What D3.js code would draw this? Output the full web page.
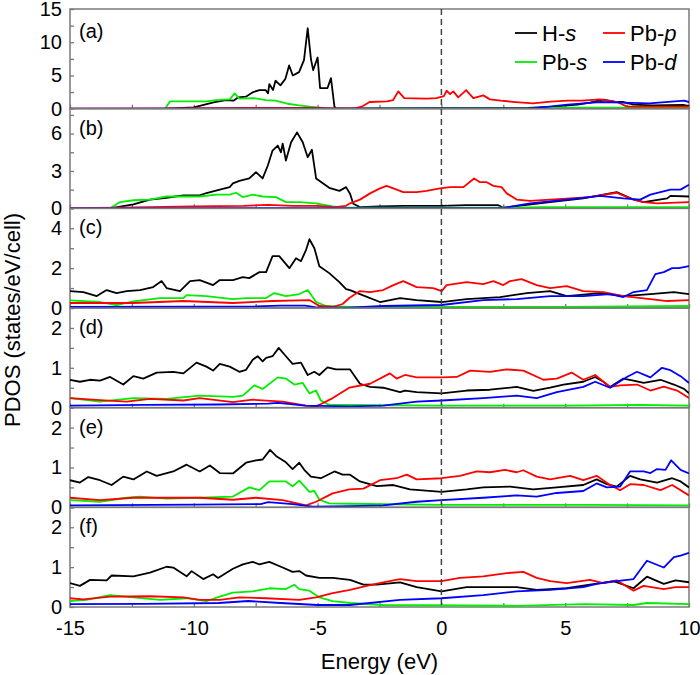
<!DOCTYPE html>
<html>
<head>
<meta charset="utf-8">
<script src="https://cdn.jsdelivr.net/npm/d3@7/dist/d3.min.js"></script>
<style>
  html, body { margin: 0; padding: 0; background: #fff; }
  svg { display: block; font-family: "Liberation Sans", Arial, sans-serif; }
</style>
</head>
<body>
<svg id="chart" width="700" height="675"></svg>
<script>
// ---------------- data ----------------
const energyTicks = [-15, -10, -5, 0, 5, 10];
const panelLabels = ["(a)", "(b)", "(c)", "(d)", "(e)", "(f)"];
const yMax = [15, 8, 5, 2.5, 2.5, 2.5];
const yTickLabels = [[0, 5, 10, 15], [0, 3, 6], [0, 2, 4], [0, 1, 2], [0, 1, 2], [0, 1, 2]];
const yMinorStep = [2.5, 1.5, 1, 0.5, 0.5, 0.5];
const seriesNames = ["H-s", "Pb-s", "Pb-p", "Pb-d"];

// panel (a)
const hs_a = [[-11.1,0],[-10.0,0.2],[-9.2,0.95],[-8.7,1.3],[-8.4,1.2],[-8.2,1.7],[-7.9,1.8],[-7.6,2.5],[-7.35,2.8],[-7.1,2.8],[-7.0,2.3],[-6.95,3.7],[-6.8,2.8],[-6.7,4.2],[-6.5,3.5],[-6.3,4.5],[-6.15,6.5],[-6.0,5.0],[-5.75,5.5],[-5.55,7.3],[-5.4,12.1],[-5.27,7.5],[-5.18,5.8],[-5.0,7.7],[-4.9,3.1],[-4.6,3.1],[-4.46,4.6],[-4.32,0.3],[-4.26,0.02],[-3,0.05],[0,0.08],[3.5,0.1],[4.5,0.3],[5.5,0.6],[6.0,0.9],[6.54,1.35],[7.1,1.0],[7.35,1.0],[7.76,0.6],[8.5,0.5],[9.8,0.55],[10,0.4]];
const pbs_a = [[-11.16,0],[-10.96,1.1],[-9.5,1.1],[-9.1,1.3],[-8.55,1.4],[-8.35,2.3],[-8.16,1.5],[-7.6,1.6],[-7.1,1.3],[-6.7,1.2],[-6.15,0.7],[-5.75,0.5],[-5.3,0.3],[-5.0,0.2],[-4.4,0.02],[3.5,0.02],[4.5,0.15],[10,0.15]];
const pbp_a = [[-15,0.02],[-11,0.05],[-8,0.1],[-5,0.1],[-4.3,0.05],[-3.5,0.05],[-3.22,0.3],[-2.9,1.0],[-2.2,1.1],[-1.95,1.3],[-1.74,2.6],[-1.5,1.6],[-0.6,1.5],[-0.2,1.6],[0.1,1.9],[0.21,2.7],[0.35,2.2],[0.48,2.6],[0.68,1.7],[1.0,2.8],[1.29,1.6],[1.69,2.0],[1.96,1.4],[2.4,1.2],[3.0,1.0],[3.7,0.8],[4.4,1.06],[5.1,1.2],[5.7,1.2],[6.4,1.4],[7.1,1.0],[7.5,0.3],[10,0.3]];
const pbd_a = [[-15,0],[3.6,0.02],[5.1,0.6],[6.4,1.0],[7.35,0.9],[8.4,0.8],[9.8,1.2],[10,1.0]];

// panel (b)
const hs_b = [[-13.38,0],[-12.44,0.32],[-11.77,0.7],[-11.1,0.85],[-10.42,1.04],[-9.76,1.04],[-9.49,1.23],[-8.95,1.5],[-8.55,1.7],[-8.42,2.0],[-8.16,2.2],[-7.76,2.4],[-7.49,2.9],[-7.22,2.4],[-7.01,3.44],[-6.82,4.64],[-6.61,5.04],[-6.48,4.5],[-6.41,5.2],[-6.28,3.84],[-6.07,5.3],[-5.83,6.1],[-5.6,5.3],[-5.4,4.1],[-5.23,4.7],[-5.06,2.4],[-4.53,1.65],[-4.12,1.4],[-3.85,1.7],[-3.69,1.17],[-3.56,0.37],[-3.29,0.1],[-2.5,0.15],[-1.5,0.2],[0,0.2],[1,0.25],[2.3,0.25],[2.5,0.05],[4.39,0.5],[5.73,0.8],[7.08,1.3],[7.76,0.7],[8.17,0.5],[9.12,0.8],[9.25,1.0],[10,0.95]];
const pbs_b = [[-13.38,0],[-12.98,0.5],[-12.44,0.65],[-11.77,0.7],[-11.1,0.95],[-9.76,0.95],[-9.09,1.1],[-8.55,1.1],[-8.29,1.25],[-8.02,0.9],[-7.62,1.1],[-7.22,0.95],[-6.68,0.9],[-6.28,0.5],[-5.74,0.5],[-5.06,0.4],[-4.39,0.15],[-3.85,0.05],[3,0.05],[4,0.1],[10,0.1]];
const pbp_b = [[-15,0.02],[-13,0.05],[-10,0.15],[-8,0.2],[-7,0.27],[-6,0.2],[-5,0.2],[-4.3,0.1],[-3.85,0.2],[-3.69,0.4],[-3.29,0.7],[-2.88,1.2],[-2.48,1.6],[-2.21,1.8],[-1.94,1.6],[-1.54,1.3],[-1.0,1.3],[-0.59,1.4],[-0.06,1.6],[0.35,1.7],[0.89,1.7],[1.32,2.4],[1.56,2.1],[1.83,2.1],[2.1,1.8],[2.43,1.7],[2.64,1.2],[3.04,0.7],[3.58,0.6],[4.39,0.7],[5.2,0.8],[6.0,0.9],[7.08,1.25],[7.62,0.8],[8.17,0.5],[8.71,0.4],[10,0.5]];
const pbd_b = [[-15,0],[2.5,0.02],[3.58,0.4],[5.06,0.7],[6.41,1.0],[7.35,0.8],[8.03,0.7],[8.44,1.1],[9.25,1.5],[9.66,1.5],[10,1.9]];

// panel (c)
const hs_c = [[-15,0.85],[-14.46,0.8],[-13.92,0.6],[-13.52,0.9],[-13.12,0.75],[-12.71,0.85],[-12.17,0.9],[-11.64,1.05],[-11.3,1.35],[-11.1,1.0],[-10.56,0.85],[-10.15,1.35],[-9.76,1.4],[-9.22,1.15],[-8.95,1.4],[-8.42,1.4],[-8.02,1.55],[-7.76,1.5],[-7.35,1.8],[-7.08,1.8],[-6.82,2.6],[-6.55,2.6],[-6.14,2.0],[-5.87,2.5],[-5.67,2.35],[-5.47,2.9],[-5.33,3.45],[-5.13,3.0],[-4.93,2.1],[-4.53,1.75],[-4.12,1.3],[-3.85,0.95],[-3.69,0.9],[-3.29,0.7],[-2.48,0.3],[-1.67,0.5],[-1.0,0.4],[0.01,0.3],[1.02,0.45],[2.37,0.55],[3.45,0.75],[4.39,0.85],[5.06,0.6],[6.41,0.75],[7.35,0.6],[8.44,0.7],[9.39,0.8],[10,0.7]];
const pbs_c = [[-15,0.38],[-13.79,0.3],[-13.12,0.15],[-12.44,0.33],[-11.37,0.5],[-10.42,0.5],[-10.29,0.65],[-9.49,0.6],[-8.42,0.45],[-7.89,0.5],[-7.08,0.5],[-6.75,0.75],[-6.28,0.6],[-5.74,0.7],[-5.4,0.9],[-5.06,0.3],[-4.66,0.1],[-3.72,0.05],[5,0.05],[10,0.1]];
const pbp_c = [[-15,0.25],[-13.79,0.25],[-12.44,0.25],[-10.42,0.35],[-8.42,0.25],[-6.82,0.35],[-5.33,0.4],[-4.93,0.1],[-4.39,0.05],[-3.99,0.2],[-3.72,0.5],[-3.29,0.85],[-2.88,0.8],[-2.35,0.9],[-1.94,1.15],[-1.54,1.35],[-1.0,1.05],[-0.33,1.0],[0.01,0.85],[0.21,1.15],[1.02,1.3],[1.69,1.2],[2.1,1.35],[2.5,1.15],[2.77,1.35],[3.24,1.45],[3.85,1.15],[4.39,1.0],[5.06,1.1],[5.73,0.85],[6.54,0.8],[7.35,0.6],[8.44,0.45],[9.12,0.35],[10,0.4]];
const pbd_c = [[-15,0.05],[-10,0.07],[-7.5,0.08],[-6.5,0.12],[-5.5,0.12],[-5,0.02],[-3.69,0.02],[-2.35,0.1],[0.01,0.15],[1.69,0.4],[3.04,0.45],[4.39,0.6],[5.73,0.6],[6.81,0.7],[7.35,0.55],[7.76,0.8],[8.3,0.9],[8.64,1.7],[8.98,1.8],[9.32,2.0],[9.59,2.0],[10,2.1]];

// panel (d)
const hs_d = [[-15,0.7],[-14.6,0.65],[-14.19,0.7],[-13.79,0.68],[-13.38,0.77],[-12.85,0.58],[-12.44,0.79],[-12.04,0.73],[-11.5,0.88],[-10.83,0.9],[-10.42,0.86],[-9.89,1.13],[-9.49,1.03],[-9.22,0.93],[-8.95,1.1],[-8.55,1.03],[-8.16,0.9],[-7.89,0.95],[-7.62,1.2],[-7.42,1.29],[-7.22,1.16],[-7.08,1.25],[-6.82,1.29],[-6.57,1.5],[-6.28,1.29],[-6.01,1.1],[-5.67,1.13],[-5.4,0.82],[-5.13,0.9],[-4.93,0.82],[-4.6,1.01],[-4.26,0.96],[-3.69,0.96],[-3.29,0.6],[-2.88,0.52],[-2.35,0.5],[-1.67,0.39],[-1.47,0.43],[-1.0,0.39],[0.01,0.36],[1.02,0.43],[1.96,0.45],[3.04,0.52],[3.71,0.42],[4.39,0.5],[4.93,0.58],[5.73,0.65],[6.21,0.77],[6.54,0.65],[6.81,0.52],[7.35,0.73],[7.76,0.68],[8.17,0.62],[8.85,0.7],[9.39,0.58],[9.8,0.47],[10,0.36]];
const pbs_d = [[-15,0.24],[-13.79,0.15],[-12.44,0.24],[-11.1,0.22],[-9.76,0.3],[-8.42,0.27],[-8.02,0.3],[-7.56,0.56],[-7.22,0.47],[-6.61,0.76],[-6.28,0.73],[-5.94,0.58],[-5.6,0.62],[-5.33,0.36],[-5.06,0.43],[-4.87,0.18],[-4.53,0.07],[-3.72,0.07],[0,0.05],[5,0.05],[8,0.07],[10,0.05]];
const pbp_d = [[-15,0.24],[-13.79,0.19],[-12.71,0.15],[-11.77,0.22],[-10.42,0.18],[-9.76,0.24],[-8.42,0.14],[-7.62,0.2],[-6.41,0.15],[-5.47,0.05],[-5.06,0.03],[-4.39,0.24],[-3.72,0.5],[-2.88,0.6],[-2.08,0.86],[-1.81,0.73],[-1.47,0.82],[-1.0,0.76],[0.01,0.76],[0.62,0.77],[1.16,0.93],[1.96,0.9],[2.64,0.96],[3.31,0.93],[4.12,0.7],[4.66,0.73],[5.26,0.88],[5.73,0.7],[6.21,0.82],[6.81,0.52],[7.22,0.56],[7.9,0.58],[8.44,0.43],[8.98,0.53],[9.52,0.43],[10,0.24]];
const pbd_d = [[-15,0.05],[-12,0.07],[-9,0.08],[-7,0.1],[-6.6,0.12],[-5.5,0.05],[-3.69,0.03],[-2.35,0.05],[-1.0,0.15],[0.01,0.18],[1.69,0.24],[3.04,0.3],[3.85,0.24],[4.66,0.39],[5.73,0.52],[6.21,0.65],[6.81,0.5],[7.49,0.77],[7.9,0.9],[8.44,0.76],[8.91,1.0],[9.25,0.94],[9.66,0.79],[10,0.62]];

// panel (e)
const hs_e = [[-15,0.68],[-14.6,0.62],[-14.26,0.76],[-13.79,0.68],[-13.32,0.56],[-12.85,0.77],[-12.44,0.7],[-11.9,0.9],[-11.5,0.79],[-10.83,0.9],[-10.29,1.07],[-9.76,0.9],[-9.35,1.05],[-8.95,0.86],[-8.42,0.85],[-7.89,1.12],[-7.49,1.18],[-7.22,1.2],[-6.92,1.44],[-6.68,1.29],[-6.28,1.13],[-6.01,0.96],[-5.74,1.12],[-5.54,0.94],[-5.27,0.77],[-4.87,0.73],[-4.32,0.9],[-3.99,0.82],[-3.69,0.82],[-3.29,0.65],[-2.61,0.53],[-1.94,0.56],[-1.27,0.45],[0.01,0.39],[1.02,0.45],[1.69,0.5],[2.77,0.52],[3.71,0.45],[4.66,0.5],[5.73,0.56],[6.27,0.7],[6.68,0.58],[7.08,0.52],[7.62,0.79],[8.03,0.7],[8.71,0.62],[9.32,0.73],[9.66,0.65],[10,0.5]];
const pbs_e = [[-15,0.18],[-13.79,0.14],[-12.71,0.24],[-12.17,0.27],[-11.1,0.22],[-9.76,0.24],[-8.42,0.27],[-7.76,0.5],[-7.35,0.43],[-6.95,0.65],[-6.28,0.65],[-6.01,0.53],[-5.74,0.67],[-5.33,0.39],[-5.13,0.41],[-4.93,0.19],[-4.53,0.1],[-3.72,0.09],[0,0.06],[6,0.06],[10,0.05]];
const pbp_e = [[-15,0.24],[-13.79,0.18],[-12.44,0.24],[-9.76,0.24],[-8.42,0.19],[-7.49,0.24],[-6.41,0.18],[-5.47,0.05],[-5.06,0.14],[-4.39,0.35],[-3.72,0.45],[-3.15,0.47],[-2.48,0.68],[-1.81,0.73],[-1.4,0.82],[-1.0,0.7],[0.01,0.73],[0.75,0.79],[1.43,0.9],[1.96,0.88],[2.57,0.94],[3.04,0.88],[3.31,0.93],[3.85,0.77],[4.39,0.7],[5.2,0.79],[5.73,0.68],[6.27,0.79],[6.81,0.56],[7.22,0.43],[7.62,0.58],[8.17,0.56],[8.85,0.43],[9.32,0.56],[10,0.3]];
const pbd_e = [[-15,0.05],[-10,0.07],[-7.3,0.08],[-7.0,0.13],[-6,0.08],[-5.2,0.02],[-3.69,0.03],[-2.35,0.05],[-1.0,0.14],[0.01,0.18],[1.69,0.24],[3.04,0.3],[3.85,0.27],[4.66,0.36],[5.73,0.41],[6.27,0.6],[6.68,0.5],[7.22,0.52],[7.62,0.9],[8.17,0.9],[8.44,0.86],[8.71,0.96],[9.05,0.94],[9.28,1.18],[9.66,0.94],[10,0.85]];

// panel (f)
const hs_f = [[-15,0.6],[-14.6,0.53],[-14.19,0.68],[-13.52,0.67],[-13.32,0.79],[-12.44,0.77],[-11.77,0.86],[-11.1,1.01],[-10.83,0.99],[-10.29,0.77],[-10.09,0.9],[-9.62,0.7],[-9.22,0.82],[-9.02,0.73],[-8.42,0.96],[-8.02,1.07],[-7.62,1.13],[-7.35,1.07],[-6.95,1.13],[-6.41,0.99],[-6.01,0.88],[-5.74,0.9],[-5.47,0.79],[-4.93,0.73],[-4.39,0.73],[-3.69,0.68],[-3.15,0.56],[-2.61,0.56],[-1.67,0.62],[-1.0,0.5],[0.01,0.39],[1.02,0.5],[2.37,0.5],[3.04,0.5],[3.85,0.43],[5.06,0.47],[6.0,0.56],[6.95,0.65],[7.76,0.47],[8.3,0.76],[8.98,0.58],[9.46,0.67],[10,0.62]];
const pbs_f = [[-15,0.15],[-14.33,0.18],[-13.38,0.3],[-12.44,0.24],[-11.37,0.18],[-10.29,0.22],[-9.49,0.15],[-8.95,0.26],[-8.42,0.36],[-7.62,0.39],[-6.95,0.47],[-6.28,0.45],[-5.94,0.56],[-5.74,0.45],[-5.33,0.41],[-4.93,0.24],[-4.39,0.15],[-3.69,0.1],[-2.35,0.05],[3.04,0.03],[5.73,0.07],[7.76,0.05],[8.3,0.1],[10,0.07]];
const pbp_f = [[-15,0.22],[-14.46,0.19],[-13.38,0.26],[-11.77,0.27],[-10.42,0.24],[-9.76,0.18],[-8.95,0.18],[-8.16,0.24],[-7.08,0.22],[-5.74,0.18],[-5.06,0.24],[-4.39,0.35],[-3.69,0.43],[-3.02,0.53],[-2.35,0.62],[-1.67,0.7],[-1.0,0.65],[0.01,0.65],[0.75,0.73],[1.69,0.77],[2.64,0.85],[3.31,0.88],[3.85,0.73],[4.39,0.65],[5.06,0.6],[6.0,0.68],[6.54,0.6],[7.08,0.67],[7.76,0.41],[8.17,0.53],[8.98,0.45],[9.46,0.5],[10,0.5]];
const pbd_f = [[-15,0.07],[-12,0.08],[-9,0.1],[-7.8,0.15],[-6.5,0.1],[-5,0.05],[-3.69,0.05],[-1.67,0.18],[0.01,0.22],[1.69,0.3],[3.04,0.39],[4.39,0.43],[5.73,0.5],[6.27,0.58],[7.08,0.65],[7.76,0.7],[8.3,1.16],[8.98,0.99],[9.39,1.25],[9.66,1.29],[10,1.36]];

const panelSeries = [
  [hs_a, pbs_a, pbp_a, pbd_a],
  [hs_b, pbs_b, pbp_b, pbd_b],
  [hs_c, pbs_c, pbp_c, pbd_c],
  [hs_d, pbs_d, pbp_d, pbd_d],
  [hs_e, pbs_e, pbp_e, pbd_e],
  [hs_f, pbs_f, pbp_f, pbd_f]
];

// ---------------- layout / style ----------------
const colors = ["#000000", "#00ee00", "#ff0000", "#0000ff"];
const mL = 70, mR = 689, mT = 9, mB = 607;
const frameColor = "#7a7a7a";
const fontTick = 20, fontTitle = 22;
const fmt = d => String(d);   // plain hyphen-minus like the reference

const svg = d3.select("#chart");
const x = d3.scaleLinear().domain([energyTicks[0], energyTicks[energyTicks.length - 1]]).range([mL, mR]);
const band = d3.scaleBand().domain(d3.range(panelLabels.length)).range([mT, mB]).paddingInner(0);
const ph = band.bandwidth();

const defs = svg.append("defs");

panelLabels.forEach((lab, i) => {
  const pTop = band(i), pBot = pTop + ph;
  const y = d3.scaleLinear().domain([0, yMax[i]]).range([pBot, pTop]);
  const g = svg.append("g");

  defs.append("clipPath").attr("id", "clip" + i)
    .append("rect").attr("x", mL).attr("y", pTop).attr("width", mR - mL).attr("height", ph);

  g.append("rect").attr("x", mL).attr("y", pTop).attr("width", mR - mL).attr("height", ph)
    .attr("fill", "none").attr("stroke", frameColor).attr("stroke-width", 1.5);

  const minor = d3.range(0, yMax[i] + 1e-9, yMinorStep[i]);
  const yAxisMinor = d3.axisLeft(y).tickValues(minor).tickSize(-4).tickFormat("");
  const gy1 = g.append("g").attr("transform", `translate(${mL},0)`).call(yAxisMinor);
  gy1.select(".domain").remove();
  gy1.selectAll("line").attr("stroke", frameColor).attr("stroke-width", 1.3);

  const yAxis = d3.axisLeft(y).tickValues(yTickLabels[i]).tickSize(0).tickPadding(8).tickFormat(fmt);
  const gy2 = g.append("g").attr("transform", `translate(${mL},0)`).call(yAxis);
  gy2.select(".domain").remove();
  gy2.selectAll("text").attr("font-size", fontTick).attr("fill", "#000")
    .attr("font-family", "Liberation Sans, Arial, sans-serif");

  const xMinor = d3.range(energyTicks[0], energyTicks[energyTicks.length - 1] + 1e-9, 2.5);
  const xAxis = d3.axisBottom(x).tickValues(xMinor).tickSize(-4).tickFormat("");
  const gx = g.append("g").attr("transform", `translate(0,${pBot})`).call(xAxis);
  gx.select(".domain").remove();
  gx.selectAll("line").attr("stroke", frameColor).attr("stroke-width", 1.3);

  const line = d3.line().x(d => x(d[0])).y(d => y(d[1]));
  const lg = svg.append("g").attr("clip-path", `url(#clip${i})`);
  panelSeries[i].forEach((s, k) => {
    lg.append("path").datum(s).attr("d", line)
      .attr("fill", "none").attr("stroke", colors[k]).attr("stroke-width", 1.8)
      .attr("stroke-linejoin", "round");
  });

  svg.append("text").attr("x", mL + 9).attr("y", pTop + (i === 0 ? 22 : 19))
    .attr("dominant-baseline", "central")
    .attr("font-size", 20).text(lab);
});

const xLabAxis = d3.axisBottom(x).tickValues(energyTicks).tickSize(0).tickPadding(14).tickFormat(fmt);
const gxl = svg.append("g").attr("transform", `translate(0,${mB})`).call(xLabAxis);
gxl.select(".domain").remove();
gxl.selectAll("text").attr("font-size", fontTick).attr("fill", "#000")
  .attr("font-family", "Liberation Sans, Arial, sans-serif");

svg.append("line").attr("x1", x(0)).attr("x2", x(0)).attr("y1", mT).attr("y2", mB)
  .attr("stroke", "#444").attr("stroke-width", 1.5).attr("stroke-dasharray", "6,4");

svg.append("text").attr("x", (mL + mR) / 2).attr("y", 669).attr("text-anchor", "middle")
  .attr("font-size", fontTitle).text("Energy (eV)");
svg.append("text").attr("transform", `translate(20,320) rotate(-90)`)
  .attr("text-anchor", "middle").attr("font-size", fontTitle).text("PDOS (states/eV/cell)");

const legPos = [[515, 33], [515, 62], [603, 33], [603, 62]];
seriesNames.forEach((name, k) => {
  const [lx, ly] = legPos[k];
  svg.append("line").attr("x1", lx).attr("x2", lx + 22).attr("y1", ly).attr("y2", ly)
    .attr("stroke", colors[k]).attr("stroke-width", 1.8);
  const parts = name.split("-");
  const t = svg.append("text").attr("x", lx + 27).attr("y", ly + 8).attr("font-size", 22);
  t.append("tspan").text(parts[0] + "-");
  t.append("tspan").attr("font-style", "italic").text(parts[1]);
});
</script>
</body>
</html>
